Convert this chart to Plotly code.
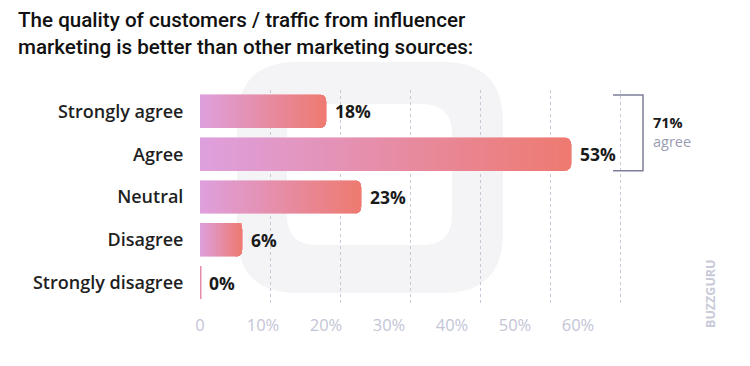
import plotly.graph_objects as go

# ---- data ----
categories = ["Strongly agree", "Agree", "Neutral", "Disagree", "Strongly disagree"]
values = [18, 53, 23, 6, 0]
tick_vals = [0, 10, 20, 30, 40, 50, 60]
tick_text = ["0", "10%", "20%", "30%", "40%", "50%", "60%"]
title_lines = ["The quality of customers / traffic from influencer",
               "marketing is better than other marketing sources:"]
agree_label = "agree"
brand = "BUZZGURU"

# ---- styling ----
W, H = 750, 366
ML, MR, MT, MB = 200, 100, 90, 62
PW, PH = W - ML - MR, H - MT - MB
C_LEFT = (222, 160, 222)
C_RIGHT = (238, 122, 112)
N_SEG = 60
BARGAP = 0.23
FONT = "Roboto"
FONT2 = "Open Sans"

def px(x):
    return (x - ML) / PW

def py(y):
    return (H - MB - y) / PH

def lerp(a, b, t):
    return tuple(round(a[i] + (b[i] - a[i]) * t) for i in range(3))

fig = go.Figure()

# gradient bars: each bar split into N_SEG stacked slices coloured left->right
for i in range(N_SEG):
    c = lerp(C_LEFT, C_RIGHT, (i + 0.5) / N_SEG)
    fig.add_trace(go.Bar(
        y=categories,
        x=[v / N_SEG for v in values],
        orientation="h",
        marker=dict(color=f"rgb{c}", line=dict(width=0.6, color=f"rgb{c}"),
                    cornerradius=6),
        hoverinfo="skip",
        showlegend=False,
        xaxis="x",
    ))

# invisible trace to activate the label axis
fig.add_trace(go.Scatter(x=[tick_vals[0], tick_vals[-1]], y=[categories[0], categories[0]],
                         xaxis="x2", mode="markers", marker=dict(opacity=0),
                         hoverinfo="skip", showlegend=False))

# value labels
half = (1 - BARGAP) / 2
for idx, (cat, v) in enumerate(zip(categories, values)):
    fig.add_annotation(x=v, y=cat, xref="x", yref="y", text=f"<b>{v}%</b>",
                       showarrow=False, xanchor="left", yanchor="middle", xshift=7,
                       font=dict(family=FONT2, size=17.5, color="#1a1a1a"))
    if v == 0:
        fig.add_shape(type="line", xref="x", yref="y", x0=v, x1=v,
                      y0=idx - half, y1=idx + half,
                      line=dict(color="rgb(230,140,170)", width=3))

# bracket for the agree group
fig.add_shape(type="path", xref="paper", yref="y",
              path=f"M {px(613)} {0 - half} L {px(643)} {0 - half} L {px(643)} {1 + half} L {px(613)} {1 + half}",
              line=dict(color="#7c7f9c", width=1.5))
fig.add_annotation(x=px(651), y=py(132), xref="paper", yref="paper",
                   text=f"<b>{values[0] + values[1]}%</b><br><span style='color:#9a9db4'>{agree_label}</span>",
                   showarrow=False, xanchor="left", yanchor="middle", align="left",
                   font=dict(family=FONT2, size=14.5, color="#1a1a1a"))

# watermark logo ring
o = (237, 62, 503, 293, 60)
n = (287, 104, 452, 245, 30)
def rr(x0, y0, x1, y1, r, cw=True):
    pts = []
    if cw:
        seq = [("M", x0 + r, y0), ("L", x1 - r, y0), ("Q", x1, y0, x1, y0 + r),
               ("L", x1, y1 - r), ("Q", x1, y1, x1 - r, y1), ("L", x0 + r, y1),
               ("Q", x0, y1, x0, y1 - r), ("L", x0, y0 + r), ("Q", x0, y0, x0 + r, y0)]
    else:
        seq = [("M", x0 + r, y0), ("Q", x0, y0, x0, y0 + r), ("L", x0, y1 - r),
               ("Q", x0, y1, x0 + r, y1), ("L", x1 - r, y1), ("Q", x1, y1, x1, y1 - r),
               ("L", x1, y0 + r), ("Q", x1, y0, x1 - r, y0), ("L", x0 + r, y0)]
    for s in seq:
        if s[0] == "Q":
            pts.append(f"Q {px(s[1])} {py(s[2])} {px(s[3])} {py(s[4])}")
        else:
            pts.append(f"{s[0]} {px(s[1])} {py(s[2])}")
    return " ".join(pts) + " Z"
fig.add_shape(type="path", xref="paper", yref="paper", layer="below",
              path=rr(*o, cw=True) + " " + rr(*n, cw=False),
              fillcolor="#f4f4f6", line=dict(width=0))

# title
for k, line in enumerate(title_lines):
    fig.add_annotation(x=px(16), y=py(20 + 27 * k), xref="paper", yref="paper",
                       yanchor="middle", xanchor="left", showarrow=False, text=line,
                       font=dict(family=FONT, size=20.6, color="#111111", weight=500))

# brand
fig.add_annotation(x=px(710), y=py(294), xref="paper", yref="paper", text=f"<b>{brand}</b>",
                   textangle=-90, showarrow=False, xanchor="center", yanchor="middle",
                   font=dict(family=FONT2, size=12.5, color="#c9cbd9"))

fig.update_layout(
    width=W, height=H,
    margin=dict(l=ML, r=MR, t=MT, b=MB),
    barmode="stack", bargap=BARGAP,
    plot_bgcolor="rgba(0,0,0,0)", paper_bgcolor="white",
    xaxis=dict(range=[0, PW / 7.0], tickvals=tick_vals, showticklabels=False,
               showgrid=True, gridcolor="#c6c8d8", griddash="dot", gridwidth=1,
               zeroline=False, showline=False, fixedrange=True, automargin=False),
    xaxis2=dict(overlaying="x", side="bottom", anchor="y", range=[0, PW / 6.3],
                tickvals=tick_vals, ticktext=tick_text, showgrid=False, zeroline=False,
                ticks="outside", ticklen=6, tickcolor="rgba(0,0,0,0)", automargin=False,
                tickfont=dict(family=FONT2, size=16.5, color="#c3c5d6")),
    yaxis=dict(categoryorder="array", categoryarray=categories, autorange="reversed",
               ticks="outside", ticklen=12, tickcolor="rgba(0,0,0,0)",
               showgrid=False, zeroline=False, automargin=False,
               tickfont=dict(family=FONT2, size=18, color="#1f1f1f", weight=600)),
)

fig.write_html("out.html", config={"displayModeBar": False},
               post_script="document.body.style.margin='0';")
